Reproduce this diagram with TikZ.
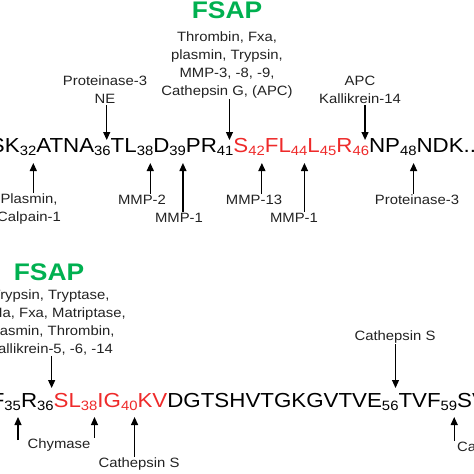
\documentclass[tikz,border=0pt]{standalone}
\usepackage{fontspec}
\setmainfont{Liberation Sans}[FakeStretch=1.1]
\usepackage{tikz}
\usetikzlibrary{arrows.meta,calc,positioning}
\definecolor{SeqRed}{HTML}{EE2A2A}
\definecolor{FsapGreen}{HTML}{00B050}
\definecolor{LabelInk}{HTML}{222222}
\newcommand{\rsub}[1]{{\fontsize{13.5}{13.5}\selectfont\raisebox{-3pt}{#1}}}

\begin{document}
\begin{tikzpicture}[x=1pt,y=-1pt,
    seq/.style={inner sep=0pt,outer sep=0pt,anchor=base west,font=\fontsize{20.3}{21}\selectfont},
    lbl/.style={inner sep=1pt,align=center,text=LabelInk,font=\fontsize{13.5}{18}\selectfont},
    fsap/.style={inner sep=0pt,text=FsapGreen,font=\fontsize{24}{24}\selectfont\bfseries},
    cut/.style={-{Triangle[length=8pt,width=7pt]},line width=1.2pt}]
  \useasboundingbox (0,0) rectangle (474,474);
  \clip (0,0) rectangle (474,474);

  % first stretch of the sequence
  \node[seq] (a1) at (-10,152) {SK\rsub{32}};
  \node[seq] (a2) at (a1.base east) {ATNA\rsub{36}};
  \node[seq] (a3) at (a2.base east) {TL\rsub{38}};
  \node[seq] (a4) at (a3.base east) {D\rsub{39}};
  \node[seq] (a5) at (a4.base east) {PR\rsub{41}};
  \node[seq,text=SeqRed] (a6) at (a5.base east) {S\rsub{42}};
  \node[seq,text=SeqRed] (a7) at (a6.base east) {FL\rsub{44}};
  \node[seq,text=SeqRed] (a8) at (a7.base east) {L\rsub{45}R\rsub{46}};
  \node[seq] (a9) at (a8.base east) {NP\rsub{48}};
  \node[seq] (a10) at (a9.base east) {NDK...};

  \coordinate (d2) at ($(a2.base east)+(-4,-12)$);
  \coordinate (d5) at ($(a5.base east)+(-4,-12)$);
  \coordinate (d8) at ($(a8.base east)+(-4,-12)$);
  \coordinate (u1) at ($(a1.base east)+(-3,11)$);
  \coordinate (u3) at ($(a3.base east)+(-3,11)$);
  \coordinate (u4) at ($(a4.base east)+(-3,11)$);
  \coordinate (u6) at ($(a6.base east)+(-3,11)$);
  \coordinate (u7) at ($(a7.base east)+(-3,11)$);
  \coordinate (u9) at ($(a9.base east)+(-3,11)$);

  \node[fsap] (fsap1) at (227,10) {FSAP};
  \node[lbl] (grp1) at (227,65) {Thrombin, Fxa,\\plasmin, Trypsin,\\MMP-3, -8, -9,\\Cathepsin G, (APC)};
  \node[lbl] (pr3ne) at (105,90) {Proteinase-3\\NE};
  \node[lbl] (apc) at (360,90) {APC\\Kallikrein-14};
  \node[lbl] (plas) at (29,209) {Plasmin,\\Calpain-1};
  \node[lbl] (mmp2) at (142,200) {MMP-2};
  \node[lbl] (mmp1a) at (179,218) {MMP-1};
  \node[lbl] (mmp13) at (254,200) {MMP-13};
  \node[lbl] (mmp1b) at (294,218) {MMP-1};
  \node[lbl] (pr3) at (417,200) {Proteinase-3};

  \draw[cut] (pr3ne.south -| d2) -- (d2);
  \draw[cut] (grp1.south -| d5) -- (d5);
  \draw[cut] (apc.south -| d8) -- (d8);
  \draw[cut] (plas.north -| u1) -- (u1);
  \draw[cut] (mmp2.north -| u3) -- (u3);
  \draw[cut] (mmp1a.north -| u4) -- (u4);
  \draw[cut] (mmp13.north -| u6) -- (u6);
  \draw[cut] (mmp1b.north -| u7) -- (u7);
  \draw[cut] (pr3.north -| u9) -- (u9);

  % second stretch of the sequence
  \node[seq] (b2) at (21,407) {R\rsub{36}};
  \node[seq,anchor=base east] (b1) at (b2.base west) {F\rsub{35}};
  \node[seq,text=SeqRed] (b3) at (b2.base east) {SL\rsub{38}};
  \node[seq,text=SeqRed] (b4) at (b3.base east) {IG\rsub{40}};
  \node[seq] (b5) at (b4.base east) {\textcolor{SeqRed}{KV}DGTSHVTGKGVTVE\rsub{56}};
  \node[seq] (b6) at (b5.base east) {TVF\rsub{59}};
  \node[seq] (b7) at (b6.base east) {SV};

  \coordinate (e2) at ($(b2.base east)+(-2,-19)$);
  \coordinate (e5) at ($(b5.base east)+(-3,-19)$);
  \coordinate (f1) at ($(b1.base east)+(-3,10)$);
  \coordinate (f1t) at ($(b1.base east)+(-3,33)$);
  \coordinate (f3) at ($(b3.base east)+(-3,10)$);
  \coordinate (f4) at ($(b4.base east)+(-3,10)$);
  \coordinate (f6) at ($(b6.base east)+(-3,10)$);

  \node[fsap] (fsap2) at (49,272) {FSAP};
  \node[lbl] (grp2) at (50.6,322) {Trypsin, Tryptase,\\FXIIa, Fxa, Matriptase,\\Plasmin, Thrombin,\\Kallikrein-5, -6, -14};
  \node[lbl] (cats1) at (395,337) {Cathepsin S};
  \node[lbl] (chym) at (59,445) {Chymase};
  \node[lbl] (cats2) at (139,464) {Cathepsin S};
  \node[lbl,anchor=west] (catx) at (456,448) {Cathepsin};

  \draw[cut] (grp2.south -| e2) -- (e2);
  \draw[cut] (cats1.south -| e5) -- (e5);
  \draw[cut] (f1t) -- (f1);
  \draw[cut] (chym.north -| f3) -- (f3);
  \draw[cut] (cats2.north -| f4) -- (f4);
  \draw[cut] (catx.north -| f6) -- (f6);
\end{tikzpicture}
\end{document}
